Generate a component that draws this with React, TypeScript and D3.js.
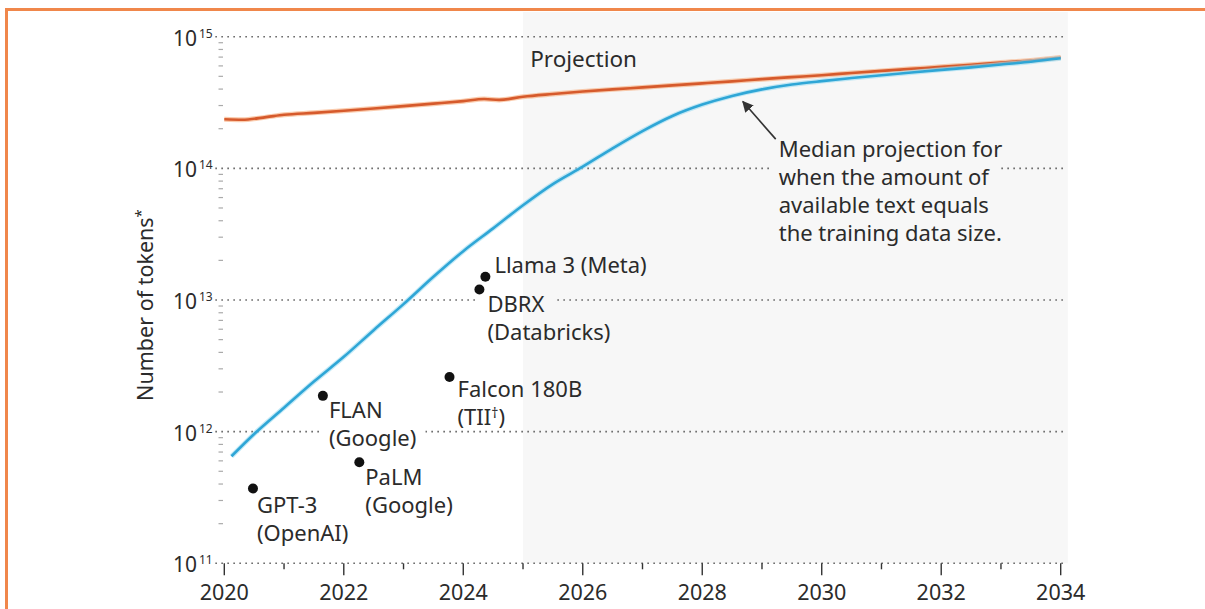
import { useEffect, useRef } from 'react';
import * as d3 from 'd3';

const W = 1205;
const H = 609;

// available stock of public text (orange)
const availYears = [2020, 2020.3, 2020.7, 2021, 2021.5, 2022, 2022.5, 2023, 2023.5, 2024, 2024.35, 2024.6, 2025, 2025.5, 2026, 2026.5, 2027, 2027.5, 2028, 2028.5, 2029, 2029.5, 2030, 2030.5, 2031, 2031.5, 2032, 2032.5, 2033, 2033.5, 2034];
const availTokens = [2.36e14, 2.34e14, 2.45e14, 2.55e14, 2.64e14, 2.74e14, 2.85e14, 2.97e14, 3.1e14, 3.24e14, 3.36e14, 3.31e14, 3.5e14, 3.67e14, 3.83e14, 3.98e14, 4.12e14, 4.27e14, 4.42e14, 4.58e14, 4.76e14, 4.93e14, 5.1e14, 5.3e14, 5.5e14, 5.7e14, 5.9e14, 6.12e14, 6.36e14, 6.6e14, 6.95e14];

// median projected training data size (blue)
const medianYears = [2020.12, 2020.5, 2021, 2021.5, 2022, 2022.5, 2023, 2023.5, 2024, 2024.5, 2025, 2025.5, 2026, 2026.5, 2027, 2027.5, 2028, 2028.5, 2029, 2029.5, 2030, 2030.5, 2031, 2031.5, 2032, 2032.5, 2033, 2033.5, 2034];
const medianTokens = [6.5e11, 9.6e11, 1.52e12, 2.4e12, 3.7e12, 5.9e12, 9.3e12, 1.5e13, 2.35e13, 3.5e13, 5.25e13, 7.6e13, 1.03e14, 1.42e14, 1.92e14, 2.5e14, 3.05e14, 3.55e14, 3.98e14, 4.33e14, 4.6e14, 4.85e14, 5.1e14, 5.35e14, 5.6e14, 5.85e14, 6.15e14, 6.45e14, 6.85e14];

// individual models
const modelNames = ['GPT-3', 'FLAN', 'PaLM', 'Falcon 180B', 'DBRX', 'Llama 3 (Meta)'];
const modelOrgs = ['(OpenAI)', '(Google)', '(Google)', '(TII†)', '(Databricks)', ''];
const modelYears = [2020.48, 2021.65, 2022.26, 2023.77, 2024.27, 2024.37];
const modelTokens = [3.7e11, 1.87e12, 5.85e11, 2.6e12, 1.2e13, 1.5e13];

const xTicks = d3.range(2020, 2035);
const yExponents = [11, 12, 13, 14, 15];

const annotationLines = [
  'Median projection for',
  'when the amount of',
  'available text equals',
  'the training data size.',
];

// label offsets from each dot
const labelDx = [4, 6, 6, 8, 8, 9];
const labelDy = [25, 22, 23, 20, 22, -4];

const FONT = '"Noto Sans", sans-serif';
const TEXT = '#2b2b2b';
const SHADE = '#f7f7f7';

export default function App() {
  const svgRef = useRef<SVGSVGElement>(null);

  const x = d3.scaleLinear().domain([2020, 2034]).range([224.3, 1060.7]);
  const y = d3.scaleLog().domain([1e11, 1e15]).range([563.3, 36.7]);

  const line = d3
    .line<[number, number]>()
    .x((d) => x(d[0]))
    .y((d) => y(d[1]))
    .curve(d3.curveMonotoneX);

  const availPath = line(availYears.map((yr, i) => [yr, availTokens[i]]) as [number, number][]) || '';
  const medianPath = line(medianYears.map((yr, i) => [yr, medianTokens[i]]) as [number, number][]) || '';

  const gridLeft = x(2019.85);
  const gridRight = x(2034.1);

  // minor log ticks between decades
  const minorTicks: number[] = [];
  yExponents.slice(0, -1).forEach((e) => {
    for (let m = 2; m <= 9; m++) minorTicks.push(m * Math.pow(10, e));
  });

  const arrowTipX = x(2028.68);
  const arrowTipY = y(3.45e14) + 4;
  const annX = x(2029.28);
  const annY = y(1.4e14) + 8;

  useEffect(() => {
    if (!svgRef.current) return;
    const svg = d3.select(svgRef.current);
    const mask = svg.select('#gridMask');
    mask.selectAll('rect.knock').remove();
    svg.selectAll<SVGTextElement, unknown>('text.knock').each(function () {
      const b = this.getBBox();
      mask
        .append('rect')
        .attr('class', 'knock')
        .attr('x', b.x - 9)
        .attr('y', b.y + 2)
        .attr('width', b.width + 18)
        .attr('height', b.height - 4)
        .attr('fill', 'black');
    });
  }, []);

  return (
    <svg
      ref={svgRef}
      width={W}
      height={H}
      style={{ position: 'absolute', left: 0, top: 0, background: '#fff' }}
      fontFamily={FONT}
    >
      <defs>
        <mask id="gridMask" maskUnits="userSpaceOnUse" x={0} y={0} width={W} height={H}>
          <rect x={0} y={0} width={W} height={H} fill="white" />
        </mask>
        <marker id="arrowHead" viewBox="0 0 10 10" refX={9} refY={5} markerWidth={7} markerHeight={7} orient="auto-start-reverse">
          <path d="M0,0 L10,5 L0,10 Z" fill="#333" />
        </marker>
      </defs>

      {/* frame */}
      <rect x={5} y={8} width={W} height={3} fill="#f0874b" />
      <rect x={5} y={8} width={3} height={H} fill="#f0874b" />

      {/* projection shading */}
      <rect x={x(2025)} y={12} width={x(2034.12) - x(2025)} height={y(1e11) - 12} fill={SHADE} />

      {/* dotted gridlines */}
      <g mask="url(#gridMask)">
        {yExponents.map((e) => (
          <line
            key={e}
            x1={gridLeft}
            x2={gridRight}
            y1={y(Math.pow(10, e))}
            y2={y(Math.pow(10, e))}
            stroke="#666"
            strokeWidth={1.6}
            strokeDasharray="1.6 4.4"
          />
        ))}
      </g>

      {/* minor y ticks */}
      {minorTicks.map((v) => (
        <line key={v} x1={218.5} x2={223} y1={y(v)} y2={y(v)} stroke="#aaa" strokeWidth={1.2} />
      ))}

      {/* x ticks */}
      {xTicks.map((t) => (
        <line
          key={t}
          x1={x(t)}
          x2={x(t)}
          y1={y(1e11)}
          y2={y(1e11) + (t % 2 === 0 ? 12 : 6)}
          stroke="#333"
          strokeWidth={1.4}
        />
      ))}
      {xTicks
        .filter((t) => t % 2 === 0)
        .map((t) => (
          <text key={t} x={x(t)} y={600} textAnchor="middle" fontSize={21.5} fill={TEXT}>
            {t}
          </text>
        ))}

      {/* y tick labels */}
      {yExponents.map((e) => (
        <g key={e}>
          <text x={197} y={y(Math.pow(10, e)) + 9} textAnchor="end" fontSize={21} fill={TEXT}>
            10
          </text>
          <text x={199} y={y(Math.pow(10, e)) + 1} fontSize={12} fill={TEXT}>
            {e}
          </text>
        </g>
      ))}

      <text transform="translate(153,305) rotate(-90)" textAnchor="middle" fontSize={21.5} fill={TEXT}>
        Number of tokens
        <tspan fontSize={15} dy={-7}>
          *
        </tspan>
      </text>

      <text x={x(2025.12)} y={66.5} fontSize={22.5} fill={TEXT}>
        Projection
      </text>

      {/* series */}
      <path d={availPath} fill="none" stroke="#f6a877" strokeWidth={5} strokeOpacity={0.6} />
      <path d={availPath} fill="none" stroke="#d65a2c" strokeWidth={2.6} />
      <path d={medianPath} fill="none" stroke="#9ddcf2" strokeWidth={5} strokeOpacity={0.6} />
      <path d={medianPath} fill="none" stroke="#2fa6d6" strokeWidth={2.6} />

      {/* models */}
      {modelNames.map((name, i) => {
        const cx = x(modelYears[i]);
        const cy = y(modelTokens[i]);
        const tx = cx + labelDx[i];
        const ty = cy + labelDy[i];
        const org = modelOrgs[i];
        const dagger = org.indexOf('†');
        return (
          <g key={name}>
            <circle cx={cx} cy={cy} r={5} fill="#111" />
            <text className="knock" x={tx} y={ty} fontSize={22} fill={TEXT}>
              {name}
            </text>
            {org && (
              <text className="knock" x={tx} y={ty + 28} fontSize={22} fill={TEXT}>
                {dagger >= 0 ? (
                  <>
                    {org.slice(0, dagger)}
                    <tspan fontSize={14} dy={-7}>
                      †
                    </tspan>
                    <tspan dy={7}>{org.slice(dagger + 1)}</tspan>
                  </>
                ) : (
                  org
                )}
              </text>
            )}
          </g>
        );
      })}

      {/* annotation */}
      <line
        x1={annX - 3}
        y1={annY - 18}
        x2={arrowTipX}
        y2={arrowTipY}
        stroke="#333"
        strokeWidth={1.6}
        markerEnd="url(#arrowHead)"
      />
      {annotationLines.map((l, i) => (
        <text key={l} className="knock" x={annX} y={annY + i * 28} fontSize={22} fill={TEXT}>
          {l}
        </text>
      ))}
    </svg>
  );
}
